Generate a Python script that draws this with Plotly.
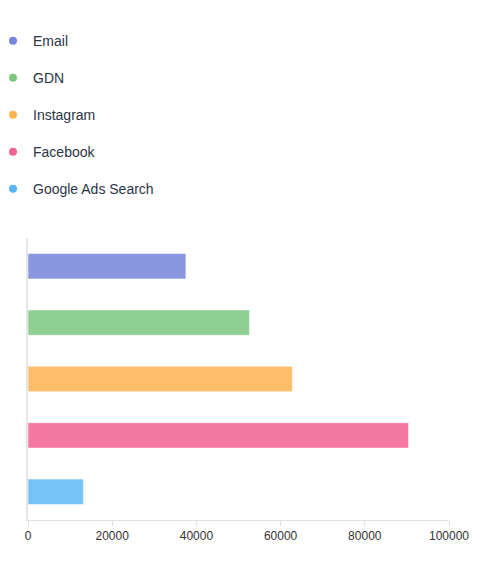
import plotly.graph_objects as go

categories = ["Email", "GDN", "Instagram", "Facebook", "Google Ads Search"]
values = [37500, 52600, 62800, 90400, 13150]
dot_colors = ["#7483db", "#7dc67f", "#ffb54f", "#f06292", "#5ab4f3"]
bar_colors = ["#8897e0", "#8ecf93", "#ffbe6b", "#f478a1", "#75c3f9"]
tick_vals = [0, 20000, 40000, 60000, 80000, 100000]

fig = go.Figure()
for cat, val, bc in zip(categories, values, bar_colors):
    fig.add_trace(go.Bar(
        x=[val], y=[cat], orientation="h", name=cat,
        marker=dict(color=bc, line=dict(color="rgba(255,255,255,0.5)", width=1)),
        showlegend=False, width=0.45,
    ))
for cat, dc in zip(categories, dot_colors):
    fig.add_trace(go.Scatter(
        x=[None], y=[None], mode="markers", name=cat, legendgroup=cat,
        marker=dict(color=dc, size=8, symbol="circle"),
    ))

fig.update_layout(
    width=485, height=571,
    margin=dict(l=28, r=36, t=238, b=51, autoexpand=False),
    paper_bgcolor="white", plot_bgcolor="white",
    barmode="overlay",
    font=dict(family="Liberation Sans, Arial, sans-serif", color="#333"),
    legend=dict(
        x=-0.0665, xanchor="left", y=0.956, yanchor="top", yref="container",
        orientation="v", tracegroupgap=15.8, indentation=-7,
        font=dict(size=14, color="#2a3547"),
        bgcolor="rgba(0,0,0,0)",
    ),
    xaxis=dict(
        range=[0, 100000], tickvals=tick_vals, ticktext=[str(v) for v in tick_vals],
        showgrid=False, zeroline=False, showline=True, linecolor="#e0e0e0", linewidth=1,
        ticks="outside", ticklen=5, tickcolor="#e0e0e0", tickwidth=1,
        tickfont=dict(size=12, color="#333"),
    ),
    yaxis=dict(
        categoryorder="array", categoryarray=categories, autorange="reversed",
        showticklabels=False, showgrid=False, zeroline=False,
        showline=True, linecolor="#e6e6e6", linewidth=2, ticks="",
    ),
)
fig.write_html("out.html")
